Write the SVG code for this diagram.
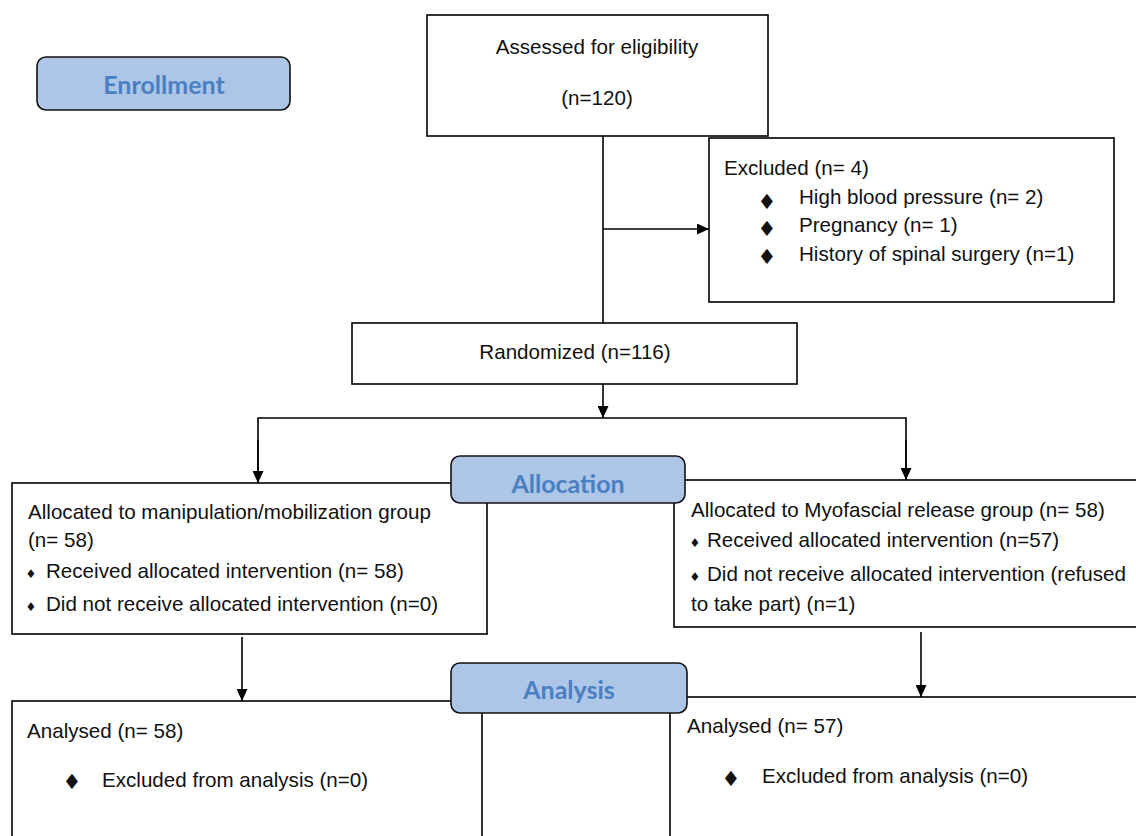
<svg xmlns="http://www.w3.org/2000/svg" width="1136" height="836" viewBox="0 0 1136 836">
<defs>
<marker id="arr" viewBox="0 0 12 11" refX="12" refY="5.5" markerWidth="12" markerHeight="11" markerUnits="userSpaceOnUse" orient="auto">
<path d="M0,0 L12,5.5 L0,11 z" fill="#000"/>
</marker>
<style>
.box{fill:#fff;stroke:#000;stroke-width:1.6}
.lbl{fill:#adc5e7;stroke:#111;stroke-width:1.6}
.lt{font-family:Lato,"Open Sans",sans-serif;font-weight:700;font-size:25px;fill:#4a7fc1;text-anchor:middle}
.t{font-family:"Liberation Sans",Arial,sans-serif;font-size:20.6px;fill:#111}
.c{text-anchor:middle}
.b{font-family:"DejaVu Sans",sans-serif;font-size:21px;fill:#111;text-anchor:middle}
.bs{font-family:"DejaVu Sans",sans-serif;font-size:12px;fill:#111;text-anchor:middle}
.ln{fill:none;stroke:#000;stroke-width:1.6}
</style>
</defs>
<rect width="1136" height="836" fill="#fff"/>

<g id="connectors">
<line class="ln" x1="603" y1="136" x2="603" y2="323"/>
<line class="ln" x1="603" y1="229" x2="709" y2="229" marker-end="url(#arr)"/>
<line class="ln" x1="603" y1="384" x2="603" y2="418" marker-end="url(#arr)"/>
<polyline class="ln" points="258,483 258,418 906,418 906,480"/>
<line class="ln" x1="258" y1="440" x2="258" y2="483" marker-end="url(#arr)"/>
<line class="ln" x1="906" y1="440" x2="906" y2="480" marker-end="url(#arr)"/>
<line class="ln" x1="242" y1="637" x2="242" y2="701" marker-end="url(#arr)"/>
<line class="ln" x1="921" y1="632" x2="921" y2="697" marker-end="url(#arr)"/>
</g>

<g id="assessed">
<rect class="box" x="427" y="15" width="341" height="121"/>
<text class="t c" x="597" y="54">Assessed for eligibility</text>
<text class="t c" x="597" y="105">(n=120)</text>
</g>

<g id="excluded">
<rect class="box" x="709" y="138" width="405" height="164"/>
<text class="t" x="724" y="175">Excluded (n= 4)</text>
<text class="b" x="767" y="209">♦</text>
<text class="t" x="799" y="204">High blood pressure (n= 2)</text>
<text class="b" x="767" y="236">♦</text>
<text class="t" x="799" y="232">Pregnancy (n= 1)</text>
<text class="b" x="767" y="264">♦</text>
<text class="t" x="799" y="261">History of spinal surgery (n=1)</text>
</g>

<g id="randomized">
<rect class="box" x="352" y="323" width="445" height="61"/>
<text class="t c" x="575" y="359">Randomized (n=116)</text>
</g>

<g id="alloc-left">
<rect class="box" x="12" y="483" width="475" height="151"/>
<text class="t" x="28" y="519">Allocated to manipulation/mobilization group</text>
<text class="t" x="28" y="547">(n= 58)</text>
<text class="bs" x="31" y="578">♦</text>
<text class="t" x="46" y="578">Received allocated intervention (n= 58)</text>
<text class="bs" x="31" y="611">♦</text>
<text class="t" x="46" y="611">Did not receive allocated intervention (n=0)</text>
</g>

<g id="alloc-right">
<rect class="box" x="674" y="480" width="480" height="147"/>
<text class="t" x="691" y="517">Allocated to Myofascial release group (n= 58)</text>
<text class="bs" x="695" y="547">♦</text>
<text class="t" x="707" y="547">Received allocated intervention (n=57)</text>
<text class="bs" x="695" y="581">♦</text>
<text class="t" x="707" y="581">Did not receive allocated intervention (refused</text>
<text class="t" x="691" y="611">to take part) (n=1)</text>
</g>

<g id="analysis-left">
<rect class="box" x="12" y="701" width="470" height="160"/>
<text class="t" x="27" y="738">Analysed (n= 58)</text>
<text class="b" x="72" y="789">♦</text>
<text class="t" x="102" y="787">Excluded from analysis (n=0)</text>
</g>

<g id="analysis-right">
<rect class="box" x="670" y="697" width="480" height="160"/>
<text class="t" x="687" y="733">Analysed (n= 57)</text>
<text class="b" x="731" y="786">♦</text>
<text class="t" x="762" y="783">Excluded from analysis (n=0)</text>
</g>

<g id="label-enrollment">
<rect class="lbl" x="37" y="57" width="253" height="53" rx="9"/>
<text class="lt" x="164" y="94">Enrollment</text>
</g>

<g id="label-allocation">
<rect class="lbl" x="451" y="456" width="234" height="47" rx="9"/>
<text class="lt" x="568" y="493">Allocation</text>
</g>

<g id="label-analysis">
<rect class="lbl" x="451" y="663" width="236" height="50" rx="9"/>
<text class="lt" x="569" y="699">Analysis</text>
</g>
</svg>
